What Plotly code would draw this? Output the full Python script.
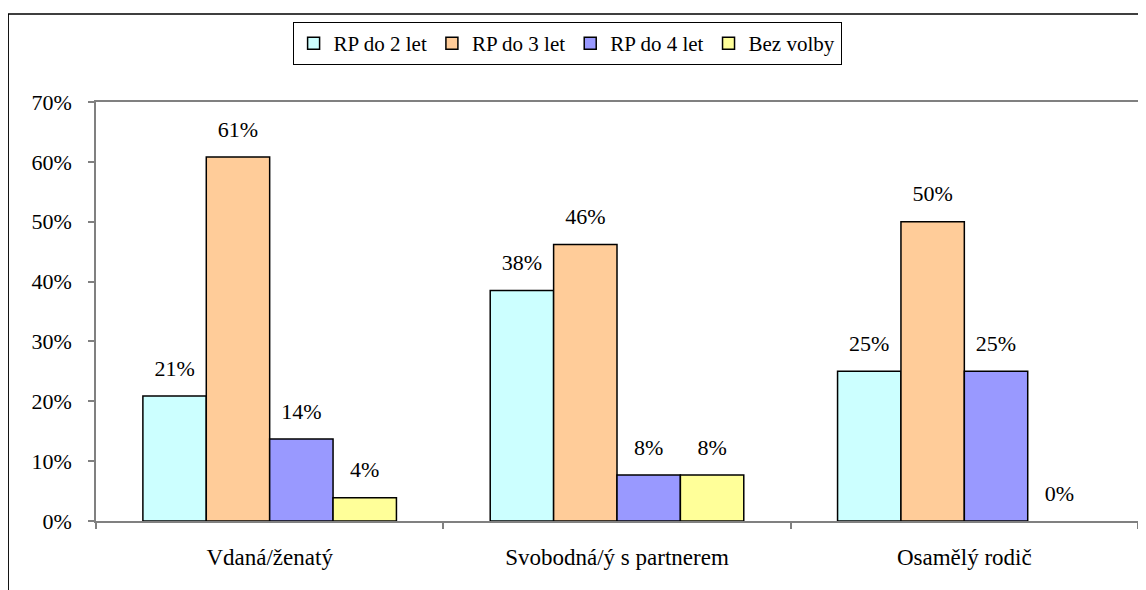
import plotly.graph_objects as go

categories = ["Vdaná/ženatý", "Svobodná/ý s partnerem", "Osamělý rodič"]
series_names = ["RP do 2 let", "RP do 3 let", "RP do 4 let", "Bez volby"]
rp2 = [0.209, 0.385, 0.25]
rp3 = [0.608, 0.462, 0.50]
rp4 = [0.137, 0.077, 0.25]
bez = [0.039, 0.077, 0.0]
colors = ["#CCFFFF", "#FFCC99", "#9999FF", "#FFFF99"]
y_ticks = [0, 0.1, 0.2, 0.3, 0.4, 0.5, 0.6, 0.7]

series_values = [rp2, rp3, rp4, bez]
FONT = "Liberation Serif"

fig = go.Figure()
for name, vals, col in zip(series_names, series_values, colors):
    fig.add_trace(go.Bar(
        x=categories, y=vals, name=name, offsetgroup=name,
        marker=dict(color=col, line=dict(
            color="black", width=[1.5 if v > 0 else 0 for v in vals])),
        hoverinfo="skip",
    ))
for name, vals in zip(series_names, series_values):
    fig.add_trace(go.Scatter(
        x=categories, y=vals, offsetgroup=name, mode="markers+text",
        text=[f"{v:.0%}" for v in vals], textposition="top center",
        textfont=dict(family=FONT, size=22, color="black"),
        marker=dict(size=22, opacity=0), showlegend=False, hoverinfo="skip",
    ))

# page body has an 8px margin, so figure coordinates are page minus 8
OFF = 8
W, H = 1146 - OFF, 590 - OFF
L, T = 96 - OFF, 102 - OFF
R = W - (1140 - OFF)
B = H - (521 - OFF)
pw, ph = W - L - R, H - T - B

fig.update_layout(
    width=W, height=H,
    margin=dict(l=L, r=R, t=T, b=B),
    paper_bgcolor="white", plot_bgcolor="white",
    barmode="group", bargap=0.27, bargroupgap=0,
    scattermode="group", scattergap=0.27,
    font=dict(family=FONT, size=22, color="black"),
    legend=dict(
        orientation="h", x=(568 - OFF - L) / pw, xanchor="center",
        y=(H - B - (22 - OFF)) / ph, yanchor="top",
        bordercolor="black", borderwidth=1, bgcolor="white",
        font=dict(family=FONT, size=21), itemwidth=30,
        tracegroupgap=0,
    ),
    xaxis=dict(
        type="category", showgrid=False, showline=True, linecolor="#808080",
        linewidth=1.5, mirror=True, ticks="outside", tickson="boundaries",
        ticklen=6, tickcolor="#808080", tickwidth=1.5, ticklabelstandoff=15,
        tickfont=dict(family=FONT, size=23),
    ),
    yaxis=dict(
        range=[0, 0.7], tickvals=y_ticks, tickformat=".0%", showgrid=False,
        zeroline=False, showline=True, linecolor="#808080", linewidth=1.5,
        mirror=True, ticks="outside", ticklen=6, tickcolor="#808080",
        tickwidth=1.5, ticklabelstandoff=12,
        tickfont=dict(family=FONT, size=22),
    ),
    shapes=[dict(
        type="rect", xref="paper", yref="paper",
        x0=(8 - OFF - L) / pw, x1=(1145 - OFF - L) / pw,
        y0=(H - B - 620) / ph, y1=(H - B - (14 - OFF)) / ph,
        line=dict(color="black", width=1.5), fillcolor="rgba(0,0,0,0)",
        layer="below",
    )],
)

fig.write_html("out.html")
